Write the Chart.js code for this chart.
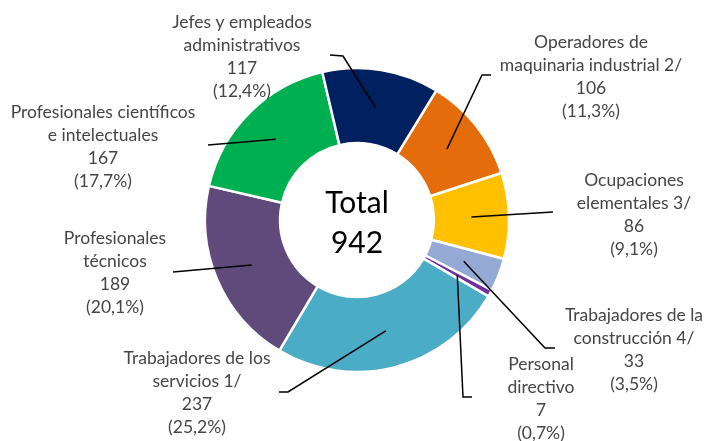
<!DOCTYPE html>
<html>
<head>
<meta charset="utf-8">
<script src="https://cdn.jsdelivr.net/npm/chart.js@4.4.1/dist/chart.umd.min.js"></script>
<style>
  html, body { margin: 0; padding: 0; background: #ffffff; }
  #wrap { width: 707px; height: 441px; position: relative; }
</style>
</head>
<body>
<div id="wrap"><canvas id="c" width="707" height="441"></canvas></div>
<script>
// ---- data ----
const categories = [
  ["Operadores de", "maquinaria industrial 2/"],
  ["Ocupaciones", "elementales 3/"],
  ["Trabajadores de la", "construcción 4/"],
  ["Personal", "directivo"],
  ["Trabajadores de los", "servicios 1/"],
  ["Profesionales", "técnicos"],
  ["Profesionales científicos", "e intelectuales"],
  ["Jefes y empleados", "administrativos"]
];
const values = [106, 86, 33, 7, 237, 189, 167, 117];
const totalLabel = ["Total", "942"];
const colors = ["#E46C0A", "#FFC000", "#95A9D5", "#7030A0", "#4BACC6", "#604A7B", "#00B050", "#002060"];

// ---- layout (label anchors and leader elbows, in pixels) ----
const labelLayout = [
  { x: 591, y: 42,  path: [[491, 75], [482, 75]] },
  { x: 634, y: 180, path: [[553, 212]] },
  { x: 634, y: 315, path: [[555, 348], [545, 348]] },
  { x: 541, y: 364, path: [[472, 397], [463, 397]] },
  { x: 197, y: 358, path: [[279, 392], [288, 392]] },
  { x: 115, y: 238, path: [[173, 272]] },
  { x: 103, y: 112, path: [[208, 145]] },
  { x: 242, y: 22,  path: [[330, 55], [343, 56]] }
];

const total = values.reduce((a, b) => a + b, 0);
const pct = v => "(" + (v / total * 100).toFixed(1).replace(".", ",") + "%)";

const labelPlugin = {
  id: "labels",
  afterDraw(chart) {
    const ctx = chart.ctx;
    const meta = chart.getDatasetMeta(0);
    ctx.save();
    // leader lines
    ctx.strokeStyle = "#000000";
    ctx.lineWidth = 1.5;
    meta.data.forEach((arc, i) => {
      const p = arc.tooltipPosition();
      const L = labelLayout[i];
      ctx.beginPath();
      ctx.moveTo(L.path[0][0], L.path[0][1]);
      for (let k = 1; k < L.path.length; k++) ctx.lineTo(L.path[k][0], L.path[k][1]);
      ctx.lineTo(p.x, p.y);
      ctx.stroke();
    });
    // labels
    ctx.fillStyle = "#454545";
    ctx.font = "17.5px Lato";
    ctx.textAlign = "center";
    ctx.textBaseline = "middle";
    values.forEach((v, i) => {
      const L = labelLayout[i];
      const lines = categories[i].concat([String(v), pct(v)]);
      lines.forEach((t, k) => ctx.fillText(t, L.x, L.y + k * 23));
    });
    // center text
    const c = meta.data[0];
    ctx.fillStyle = "#000000";
    ctx.font = "30px Lato";
    ctx.fillText(totalLabel[0], c.x, c.y - 17);
    ctx.fillText(totalLabel[1], c.x, c.y + 23);
    ctx.restore();
  }
};

new Chart(document.getElementById("c"), {
  type: "doughnut",
  data: {
    labels: categories.map(l => l.join(" ")),
    datasets: [{
      data: values,
      backgroundColor: colors,
      borderColor: "#ffffff",
      borderWidth: 2.5
    }]
  },
  options: {
    responsive: false,
    animation: false,
    rotation: 31.5,
    radius: 152,
    cutout: "50.6%",
    layout: { padding: { left: 60, right: 53, top: 60, bottom: 61 } },
    plugins: { legend: { display: false }, tooltip: { enabled: false } }
  },
  plugins: [labelPlugin]
});
</script>
</body>
</html>
